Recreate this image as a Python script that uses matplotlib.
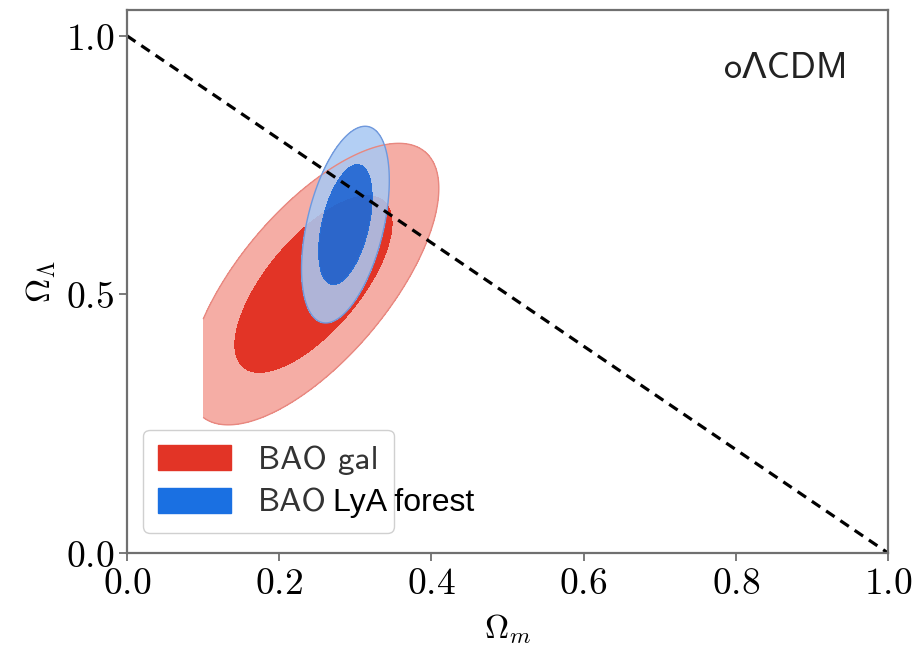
import numpy as np
import matplotlib.pyplot as plt
from matplotlib.patches import Patch

plt.rcParams['mathtext.fontset'] = 'cm'
plt.rcParams['axes.formatter.use_mathtext'] = True

# Gaussian summaries of the two BAO posteriors: mean, sigmas, correlation
gal_mean = (0.245, 0.52)
gal_sigma = (0.069, 0.114)
gal_rho = 0.68
gal_om_min = 0.1          # prior edge on Omega_m

lya_mean = (0.287, 0.635)
lya_sigma = (0.0232, 0.0765)
lya_rho = 0.45

gal_levels = [2.30, 5.7]
lya_levels = [2.30, 6.18]

xticks = [0.0, 0.2, 0.4, 0.6, 0.8, 1.0]
yticks = [0.0, 0.5, 1.0]


def chi2(X, Y, mean, sigma, rho):
    dx = (X - mean[0]) / sigma[0]
    dy = (Y - mean[1]) / sigma[1]
    return (dx**2 - 2 * rho * dx * dy + dy**2) / (1 - rho**2)


om = np.linspace(0, 1, 800)
ol = np.linspace(0, 1.05, 800)
X, Y = np.meshgrid(om, ol)

fig = plt.figure(figsize=(9.13, 6.56), dpi=100)
ax = fig.add_axes([127 / 913, 1 - 553 / 656, 761 / 913, 543 / 656])

# galaxy BAO, cut at the Omega_m prior
c_gal = chi2(X, Y, gal_mean, gal_sigma, gal_rho)
c_gal = np.ma.masked_where(X < gal_om_min, c_gal)
ax.contourf(X, Y, c_gal, levels=[0, gal_levels[0], gal_levels[1]],
            colors=['#e23426', '#f5ada5'])
ax.contour(X, Y, c_gal, levels=[gal_levels[1]], colors='#e88880', linewidths=1.0)

# Lyman-alpha forest BAO
c_lya = chi2(X, Y, lya_mean, lya_sigma, lya_rho)
ax.contourf(X, Y, c_lya, levels=[lya_levels[0], lya_levels[1]],
            colors=['#a8c8f3'], alpha=0.87)
ax.contourf(X, Y, c_lya, levels=[0, lya_levels[0]],
            colors=['#1e6ad8'], alpha=0.93)
ax.contour(X, Y, c_lya, levels=[lya_levels[1]], colors='#6f98dc', linewidths=1.0)

# flat universe line
flat_x = np.array([0.0, 1.0])
ax.plot(flat_x, 1 - flat_x, ls=(0, (3.2, 2.2)), color='black', lw=2.3)

ax.set_xlim(0, 1)
ax.set_ylim(0, 1.05)
ax.set_xticks(xticks)
ax.set_yticks(yticks)
ax.set_xticklabels([f'${t:.1f}$' for t in xticks])
ax.set_yticklabels([f'${t:.1f}$' for t in yticks])
ax.tick_params(labelsize=27, direction='out', length=6, width=1.3,
               color='#707070', pad=3)
for sp in ax.spines.values():
    sp.set_color('#707070')
    sp.set_linewidth(1.6)

ax.set_xlabel(r'$\Omega_m$', fontsize=24, labelpad=8)
ax.set_ylabel(r'$\Omega_\Lambda$', fontsize=24, labelpad=6)

ax.text(0.947, 0.893, 'oΛCDM', transform=ax.transAxes, ha='right', va='center',
        fontsize=26, family=['cmss10', 'DejaVu Sans'], color='#222222')

handles = [Patch(color='#e23426'), Patch(color='#1a70e2')]
leg = ax.legend(handles, ['BAO gal', 'BAO'], loc='lower left',
                bbox_to_anchor=(16 / 761, 20 / 543),
                prop={'family': 'cmss10', 'size': 24},
                handlelength=2.2, handleheight=0.8, handletextpad=0.8,
                borderaxespad=0.0, labelspacing=0.38, fancybox=True,
                framealpha=1.0, edgecolor='#d0d0d0', borderpad=0.45)
for t in leg.get_texts():
    t.set_color('#333333')

fig.canvas.draw()
bb = leg.get_texts()[1].get_window_extent().transformed(ax.transAxes.inverted())
ax.text(bb.x1 + 0.008, (bb.y0 + bb.y1) / 2, 'LyA forest', transform=ax.transAxes,
        ha='left', va='center', fontsize=23, family='Liberation Sans',
        color='black', zorder=10)

fig.savefig('out.png', dpi=100)
